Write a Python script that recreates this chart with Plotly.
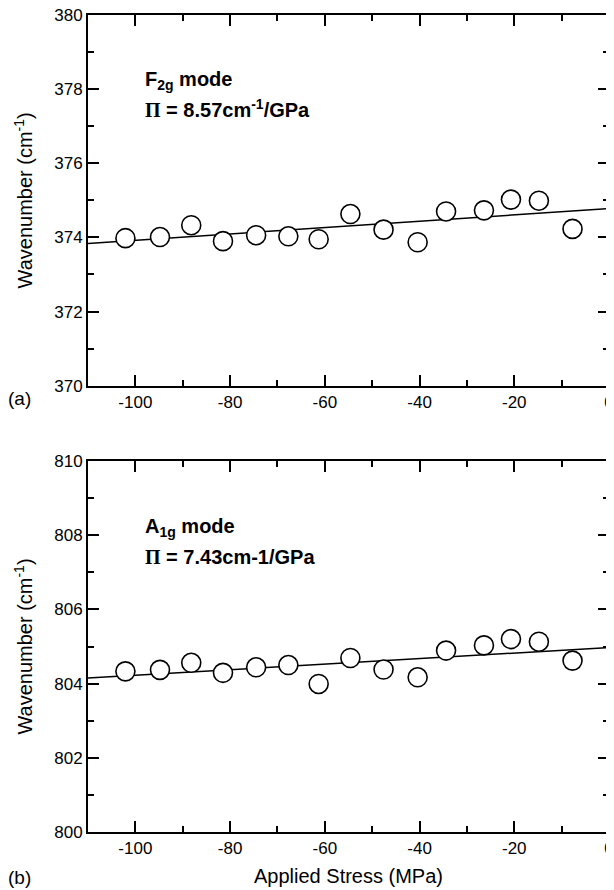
import plotly.graph_objects as go

# Data
stress = [-102.1, -94.8, -88.2, -81.5, -74.5, -67.7, -61.3, -54.6, -47.6, -40.4, -34.4, -26.4, -20.7, -14.8, -7.7]
f2g = [373.98, 374.01, 374.33, 373.90, 374.06, 374.03, 373.95, 374.63, 374.21, 373.87, 374.70, 374.73, 375.02, 374.99, 374.23]
a1g = [804.33, 804.37, 804.56, 804.29, 804.44, 804.50, 803.99, 804.69, 804.38, 804.17, 804.89, 805.03, 805.20, 805.13, 804.62]

# Linear fits: intercept at 0 MPa (cm-1) and slope (cm-1/GPa)
fit_intercept = [374.78, 804.97]
fit_slope_gpa = [8.57, 7.43]
fit_x = [-110, 0]

x_range = [-110, 0]
y_ranges = [[370, 380], [800, 810]]
x_ticks = [-100, -80, -60, -40, -20, 0]
x_tick_labels = ["-100", "-80", "-60", "-40", "-20", "0"]

FONT = "Liberation Sans, Arial, Helvetica, sans-serif"

# The page body has an 8px default margin, so the figure is drawn at (8, 8).
OFF = 8
W, H = 614 - OFF, 890 - OFF
L, R, T, B = 88 - OFF, 5, 7, 58
PW, PH = W - L - R, H - T - B

fig = go.Figure()

for i, (ys, ax) in enumerate([(f2g, ""), (a1g, "2")]):
    fit_y = [fit_intercept[i] + fit_slope_gpa[i] / 1000.0 * xv for xv in fit_x]
    fig.add_trace(go.Scatter(
        x=fit_x, y=fit_y, mode="lines",
        line=dict(color="black", width=1.5),
        xaxis="x" + ax, yaxis="y" + ax, showlegend=False, hoverinfo="skip"))
    fig.add_trace(go.Scatter(
        x=stress, y=ys, mode="markers",
        marker=dict(symbol="circle", size=19, color="white",
                    line=dict(color="black", width=1.6)),
        xaxis="x" + ax, yaxis="y" + ax, showlegend=False))

common_x = dict(
    range=x_range, tickvals=x_ticks, ticktext=x_tick_labels,
    ticks="inside", ticklen=11, tickwidth=1.5,
    tickcolor="black", mirror="allticks", showline=True, linecolor="black",
    linewidth=2, showgrid=False, zeroline=False, automargin=False,
    ticklabeloverflow="allow",
    tickfont=dict(family=FONT, size=17, color="black"),
    minor=dict(dtick=10, ticks="inside", ticklen=6, tickwidth=1.5, tickcolor="black"),
)
common_y = dict(
    dtick=2, ticks="inside", ticklen=11, tickwidth=1.5, tickcolor="black",
    mirror="allticks", showline=True, linecolor="black", linewidth=2,
    showgrid=False, zeroline=False, automargin=False,
    ticklabeloverflow="allow",
    tickfont=dict(family=FONT, size=17, color="black"),
    minor=dict(dtick=1, ticks="inside", ticklen=6, tickwidth=1.5, tickcolor="black"),
    title=dict(text="Wavenumber (cm<sup>-1</sup>)", font=dict(family=FONT, size=20, color="black"),
               standoff=16),
)

fig.update_layout(
    width=W, height=H,
    margin=dict(l=L, r=R, t=T, b=B),
    paper_bgcolor="white", plot_bgcolor="white",
    xaxis=dict(common_x, domain=[0, 1], anchor="y"),
    yaxis=dict(common_y, domain=[(832 - 385.7) / PH, 1], range=y_ranges[0], anchor="x"),
    xaxis2=dict(common_x, domain=[0, 1], anchor="y2",
                title=dict(text="Applied Stress (MPa)", font=dict(family=FONT, size=20, color="black"),
                           standoff=12)),
    yaxis2=dict(common_y, domain=[0, (832 - 461) / PH], range=y_ranges[1], anchor="x2"),
)

ann_font = dict(family=FONT, size=20, color="black")
PI = '<span style="font-family:Liberation Serif, Times New Roman, serif">Π</span>'
annotations = [
    dict(x=-98.3, y=378.22, xref="x", yref="y", text="<b>F<sub>2g</sub> mode</b>"),
    dict(x=-98.3, y=377.49, xref="x", yref="y", text=f"<b>{PI} = 8.57cm<sup>-1</sup>/GPa</b>"),
    dict(x=-98.3, y=808.22, xref="x2", yref="y2", text="<b>A<sub>1g</sub> mode</b>"),
    dict(x=-98.3, y=807.42, xref="x2", yref="y2", text=f"<b>{PI} = 7.43cm-1/GPa</b>"),
]
for a in annotations:
    fig.add_annotation(**a, showarrow=False, xanchor="left", yanchor="middle", font=ann_font)

# panel labels, positioned in window pixels relative to the plot area
for lab, xpx, ypx in [("(a)", 19, 398), ("(b)", 19, 877)]:
    fig.add_annotation(text=lab, x=(xpx - 88) / PW, y=(832 - ypx) / PH,
                       xref="paper", yref="paper",
                       showarrow=False, xanchor="center", yanchor="middle",
                       font=dict(family=FONT, size=19, color="black"))

fig.write_html("out.html")
